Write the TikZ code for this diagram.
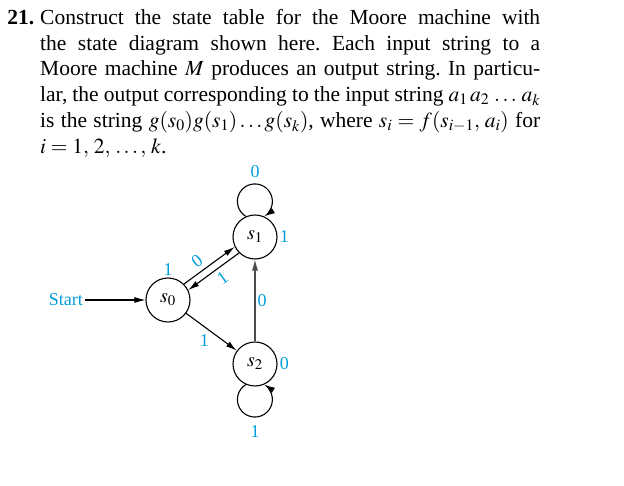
\documentclass[tikz,border=0pt]{standalone}
\usepackage{mathptmx}
\usepackage{fontspec}
\setmainfont{Liberation Serif}
\usetikzlibrary{arrows.meta, positioning}
\definecolor{outblue}{RGB}{0,158,219}
\tikzset{
  state/.style={circle, draw, line width=1.1pt, minimum size=44pt, inner sep=0pt, font=\fontsize{20}{22}\selectfont},
  outlbl/.style={text=outblue, font=\fontsize{18}{20}\selectfont, inner sep=2pt},
  arr/.style={-{Latex[length=11pt, width=6pt]}, line width=1.1pt},
}

\begin{document}
\frenchspacing
\begin{tikzpicture}[x=1pt, y=1pt]
  \useasboundingbox (0,0) rectangle (624,486);
  % exercise text
  \node[anchor=north west, inner sep=0pt, align=left, font=\fontsize{21.5}{25.8}\selectfont] (task) at (40, 477)
    {\llap{\textbf{21.}\hspace{6pt}}\makebox[500pt][s]{Construct the state table for the Moore machine with}\\
     \makebox[500pt][s]{the state diagram shown here. Each input string to a}\\
     \makebox[500pt][s]{Moore machine $M$ produces an output string. In particu-}\\
     \makebox[500pt][s]{lar, the output corresponding to the input string $a_1\,a_2\,\ldots\,a_k$}\\
     \makebox[500pt][s]{is the string $g(s_0)g(s_1)\ldots g(s_k)$, where $s_i=f(s_{i-1},\,a_i)$ for}\\
     $i=1,\,2,\,\ldots,\,k$.};
  % states
  \node[state] (s0) at (168,186) {$s_0$};
  \node[state] (s1) at (255,249) {$s_1$};
  \node[state] (s2) at (255,122) {$s_2$};
  % outputs
  \node[outlbl, above=0pt of s0] (g0) {1};
  \node[outlbl, right=0pt of s1] (g1) {1};
  \node[outlbl, right=0pt of s2] (g2) {0};
  % start
  \node[outlbl, anchor=east] (start) at (85,186) {Start};
  \draw[arr] (start) -- (s0);
  % transitions
  \draw[arr] (s0.45) -- node[outlbl, pos=0.38, sloped, above=2pt] {0} (s1.206.8);
  \draw[arr] (s1.225) -- node[outlbl, pos=0.45, sloped, below=2pt] {1} (s0.26.8);
  \draw[arr] (s0) -- node[outlbl, below left] {1} (s2);
  \draw[arr, black!70] (s2) -- node[outlbl, right] {0} (s1);
  \draw[arr] (s1.114) arc[start angle=238.8, end angle=-58.8, radius=17.5];
  \draw[arr] (s2.-114) arc[start angle=121.2, end angle=418.8, radius=17.5];
  \node[outlbl] (in1) at (255,314) {0};
  \node[outlbl] (in2) at (255,54) {1};
\end{tikzpicture}
\end{document}
